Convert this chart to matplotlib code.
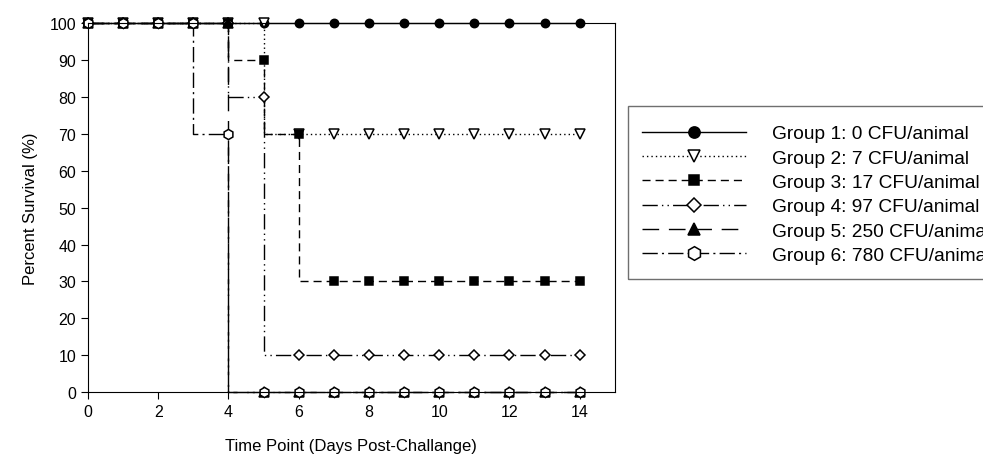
import matplotlib
matplotlib.use("Agg")
import matplotlib.pyplot as plt
from matplotlib.patches import Rectangle

plt.rcParams["font.family"] = ["Liberation Sans", "DejaVu Sans"]

days = [0, 1, 2, 3, 4, 5, 6, 7, 8, 9, 10, 11, 12, 13, 14]

g1 = [100, 100, 100, 100, 100, 100, 100, 100, 100, 100, 100, 100, 100, 100, 100]
g2 = [100, 100, 100, 100, 100, 100, 70, 70, 70, 70, 70, 70, 70, 70, 70]
g3 = [100, 100, 100, 100, 100, 90, 70, 30, 30, 30, 30, 30, 30, 30, 30]
g4 = [100, 100, 100, 100, 100, 80, 10, 10, 10, 10, 10, 10, 10, 10, 10]
g5 = [100, 100, 100, 100, 100, 0, 0, 0, 0, 0, 0, 0, 0, 0, 0]
g6 = [100, 100, 100, 100, 70, 0, 0, 0, 0, 0, 0, 0, 0, 0, 0]

labels = ["Group 1: 0 CFU/animal", "Group 2: 7 CFU/animal",
          "Group 3: 17 CFU/animal", "Group 4: 97 CFU/animal",
          "Group 5: 250 CFU/animal", "Group 6: 780 CFU/animal"]

fig = plt.figure(figsize=(9.83, 4.56), dpi=100)
ax = fig.add_axes([0.0895, 0.138, 0.536, 0.809])

# line style, marker, face colour, marker size
styles = [
    ("-", "o", "black", 6.0),
    ((0, (1, 2.2)), "v", "white", 6.5),
    ((0, (5.8, 3.6)), "s", "black", 5.8),
    ((0, (11, 3, 1, 3, 1, 3)), "D", "white", 5.6),
    ((0, (12, 7)), "^", "black", 6.5),
    ((0, (11, 3, 1.5, 3)), "h", "white", 7.3),
]

for y, lab, (ls, mk, fc, ms) in zip([g1, g2, g3, g4, g5, g6], labels, styles):
    ax.plot(days, y, drawstyle="steps-pre", color="black", lw=1.0,
            linestyle=ls, marker=mk, markersize=ms,
            markerfacecolor=fc, markeredgecolor="black",
            markeredgewidth=1.1, label=lab, clip_on=False)

ax.set_xlim(0, 15)
ax.set_ylim(0, 100)
ax.set_xticks([0, 2, 4, 6, 8, 10, 12, 14])
ax.set_yticks(range(0, 101, 10))
ax.tick_params(direction="out", length=5, labelsize=11.5, top=False, right=False)
ax.set_xlabel("Time Point (Days Post-Challange)", fontsize=12, labelpad=13.5)
ax.set_ylabel("Percent Survival (%)", fontsize=12, labelpad=8)

# legend box drawn separately so it runs off the right edge like the original
fig.patches.append(Rectangle((628 / 983, 1 - 280 / 456), 0.5, 173 / 456,
                             transform=fig.transFigure, fill=False,
                             edgecolor="#6f6f6f", lw=1.0))

leg = fig.legend(loc="upper left", bbox_to_anchor=(642 / 983, 1 - 126 / 456),
                 fontsize=13.8, handlelength=5.45, handletextpad=1.35,
                 labelspacing=0.36, borderpad=0, borderaxespad=0,
                 numpoints=1, markerscale=1.35, frameon=False)

plt.savefig("out.png", dpi=100)
